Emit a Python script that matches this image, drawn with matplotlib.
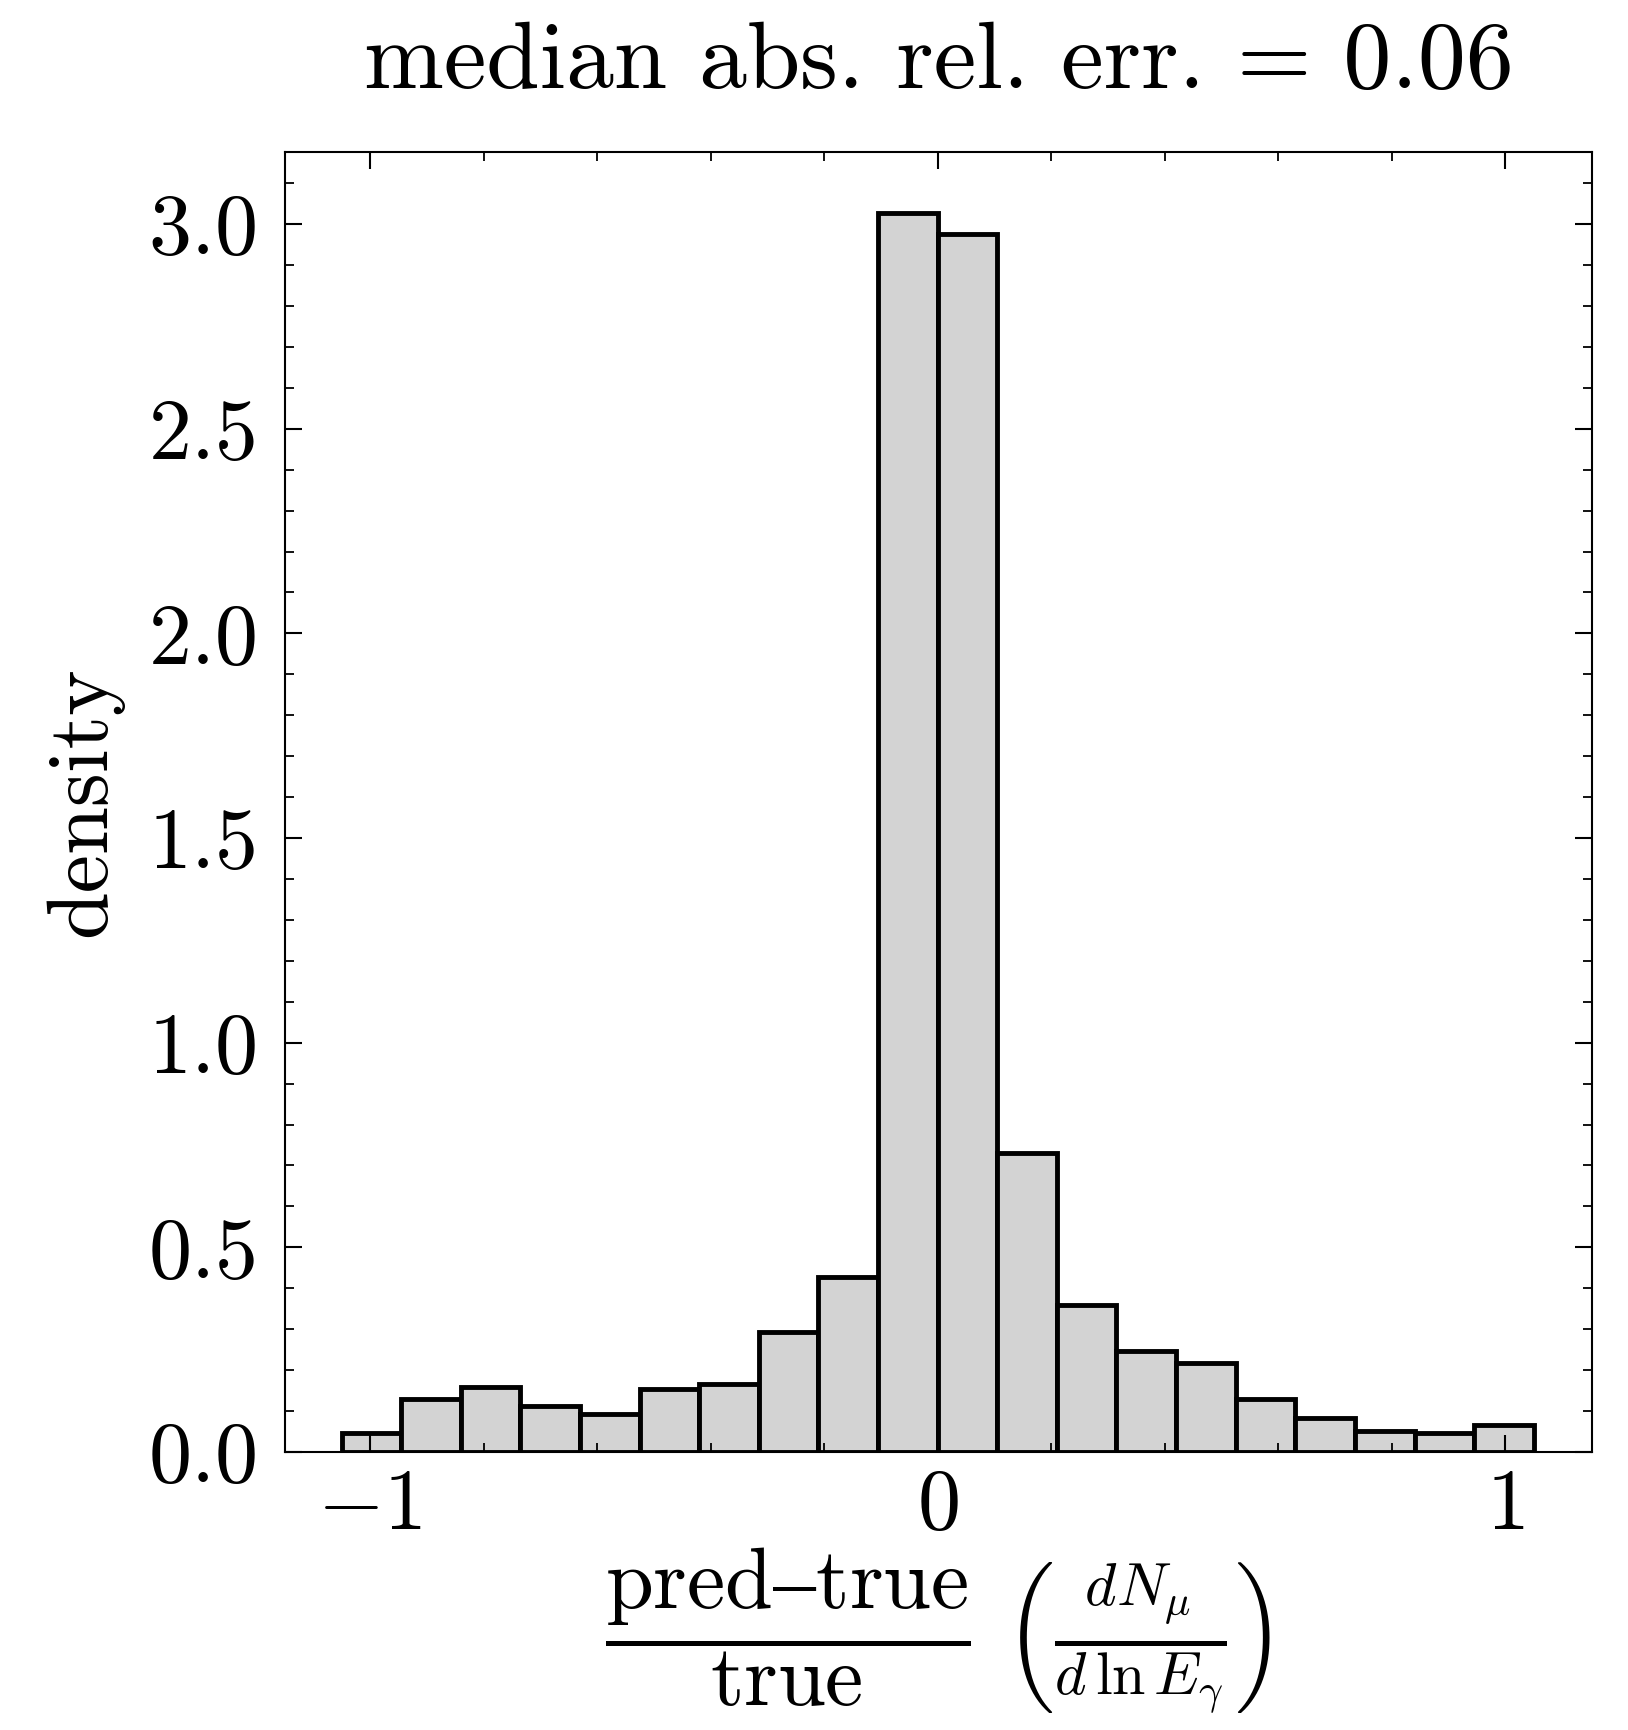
import matplotlib
matplotlib.use("Agg")
import matplotlib.pyplot as plt
import numpy as np
from matplotlib.ticker import MultipleLocator

# histogram (density, 20 bins from -1.05 to 1.05)
bin_edges = np.linspace(-1.05, 1.05, 21)
density = [0.046, 0.129, 0.160, 0.112, 0.092, 0.155, 0.165, 0.294, 0.428, 3.028,
           2.975, 0.730, 0.359, 0.247, 0.217, 0.129, 0.083, 0.051, 0.046, 0.067]
x_ticks = [-1, 0, 1]
y_ticks = [0.0, 0.5, 1.0, 1.5, 2.0, 2.5, 3.0]

plt.rcParams["font.family"] = "serif"
plt.rcParams["font.serif"] = ["cmr10"]
plt.rcParams["mathtext.fontset"] = "cm"
plt.rcParams["axes.formatter.use_mathtext"] = True
plt.rcParams["axes.unicode_minus"] = True

fs = 62
fig = plt.figure(figsize=(16.28, 17.30), dpi=100)
ax = fig.add_axes([0.175, 0.1607, 0.803, 0.7514])

centers = 0.5 * (bin_edges[:-1] + bin_edges[1:])
ax.hist(centers, bins=bin_edges, weights=density, color="lightgray",
        edgecolor="black", linewidth=3.5)

ax.set_xlim(-1.15, 1.153)
ax.set_ylim(0, 3.176)
ax.set_xticks(x_ticks)
ax.set_yticks(y_ticks)
ax.set_xticklabels([r"$-1$", r"$0$", r"$1$"])
ax.set_yticklabels([f"{v:.1f}" for v in y_ticks])
ax.xaxis.set_minor_locator(MultipleLocator(0.2))
ax.yaxis.set_minor_locator(MultipleLocator(0.1))
ax.tick_params(which="both", direction="in", top=True, right=True,
               labelsize=fs)
ax.tick_params(which="major", length=12, width=1.5)
ax.tick_params(axis="y", which="major", pad=19)
ax.tick_params(axis="x", which="major", pad=12)
ax.tick_params(which="minor", length=6.5, width=1.3)
for sp in ax.spines.values():
    sp.set_linewidth(1.5)

ax.set_ylabel("density", fontsize=fs, labelpad=18)
ax.set_xlabel(r"$\dfrac{\mathrm{pred–true}}{\mathrm{true}}\ \left(\frac{dN_\mu}{d\,\ln E_\gamma}\right)$",
              fontsize=fs, labelpad=0)
ax.set_title("median abs. rel. err. = 0.06", fontsize=69, pad=46)

fig.savefig("out.png", dpi=100)
